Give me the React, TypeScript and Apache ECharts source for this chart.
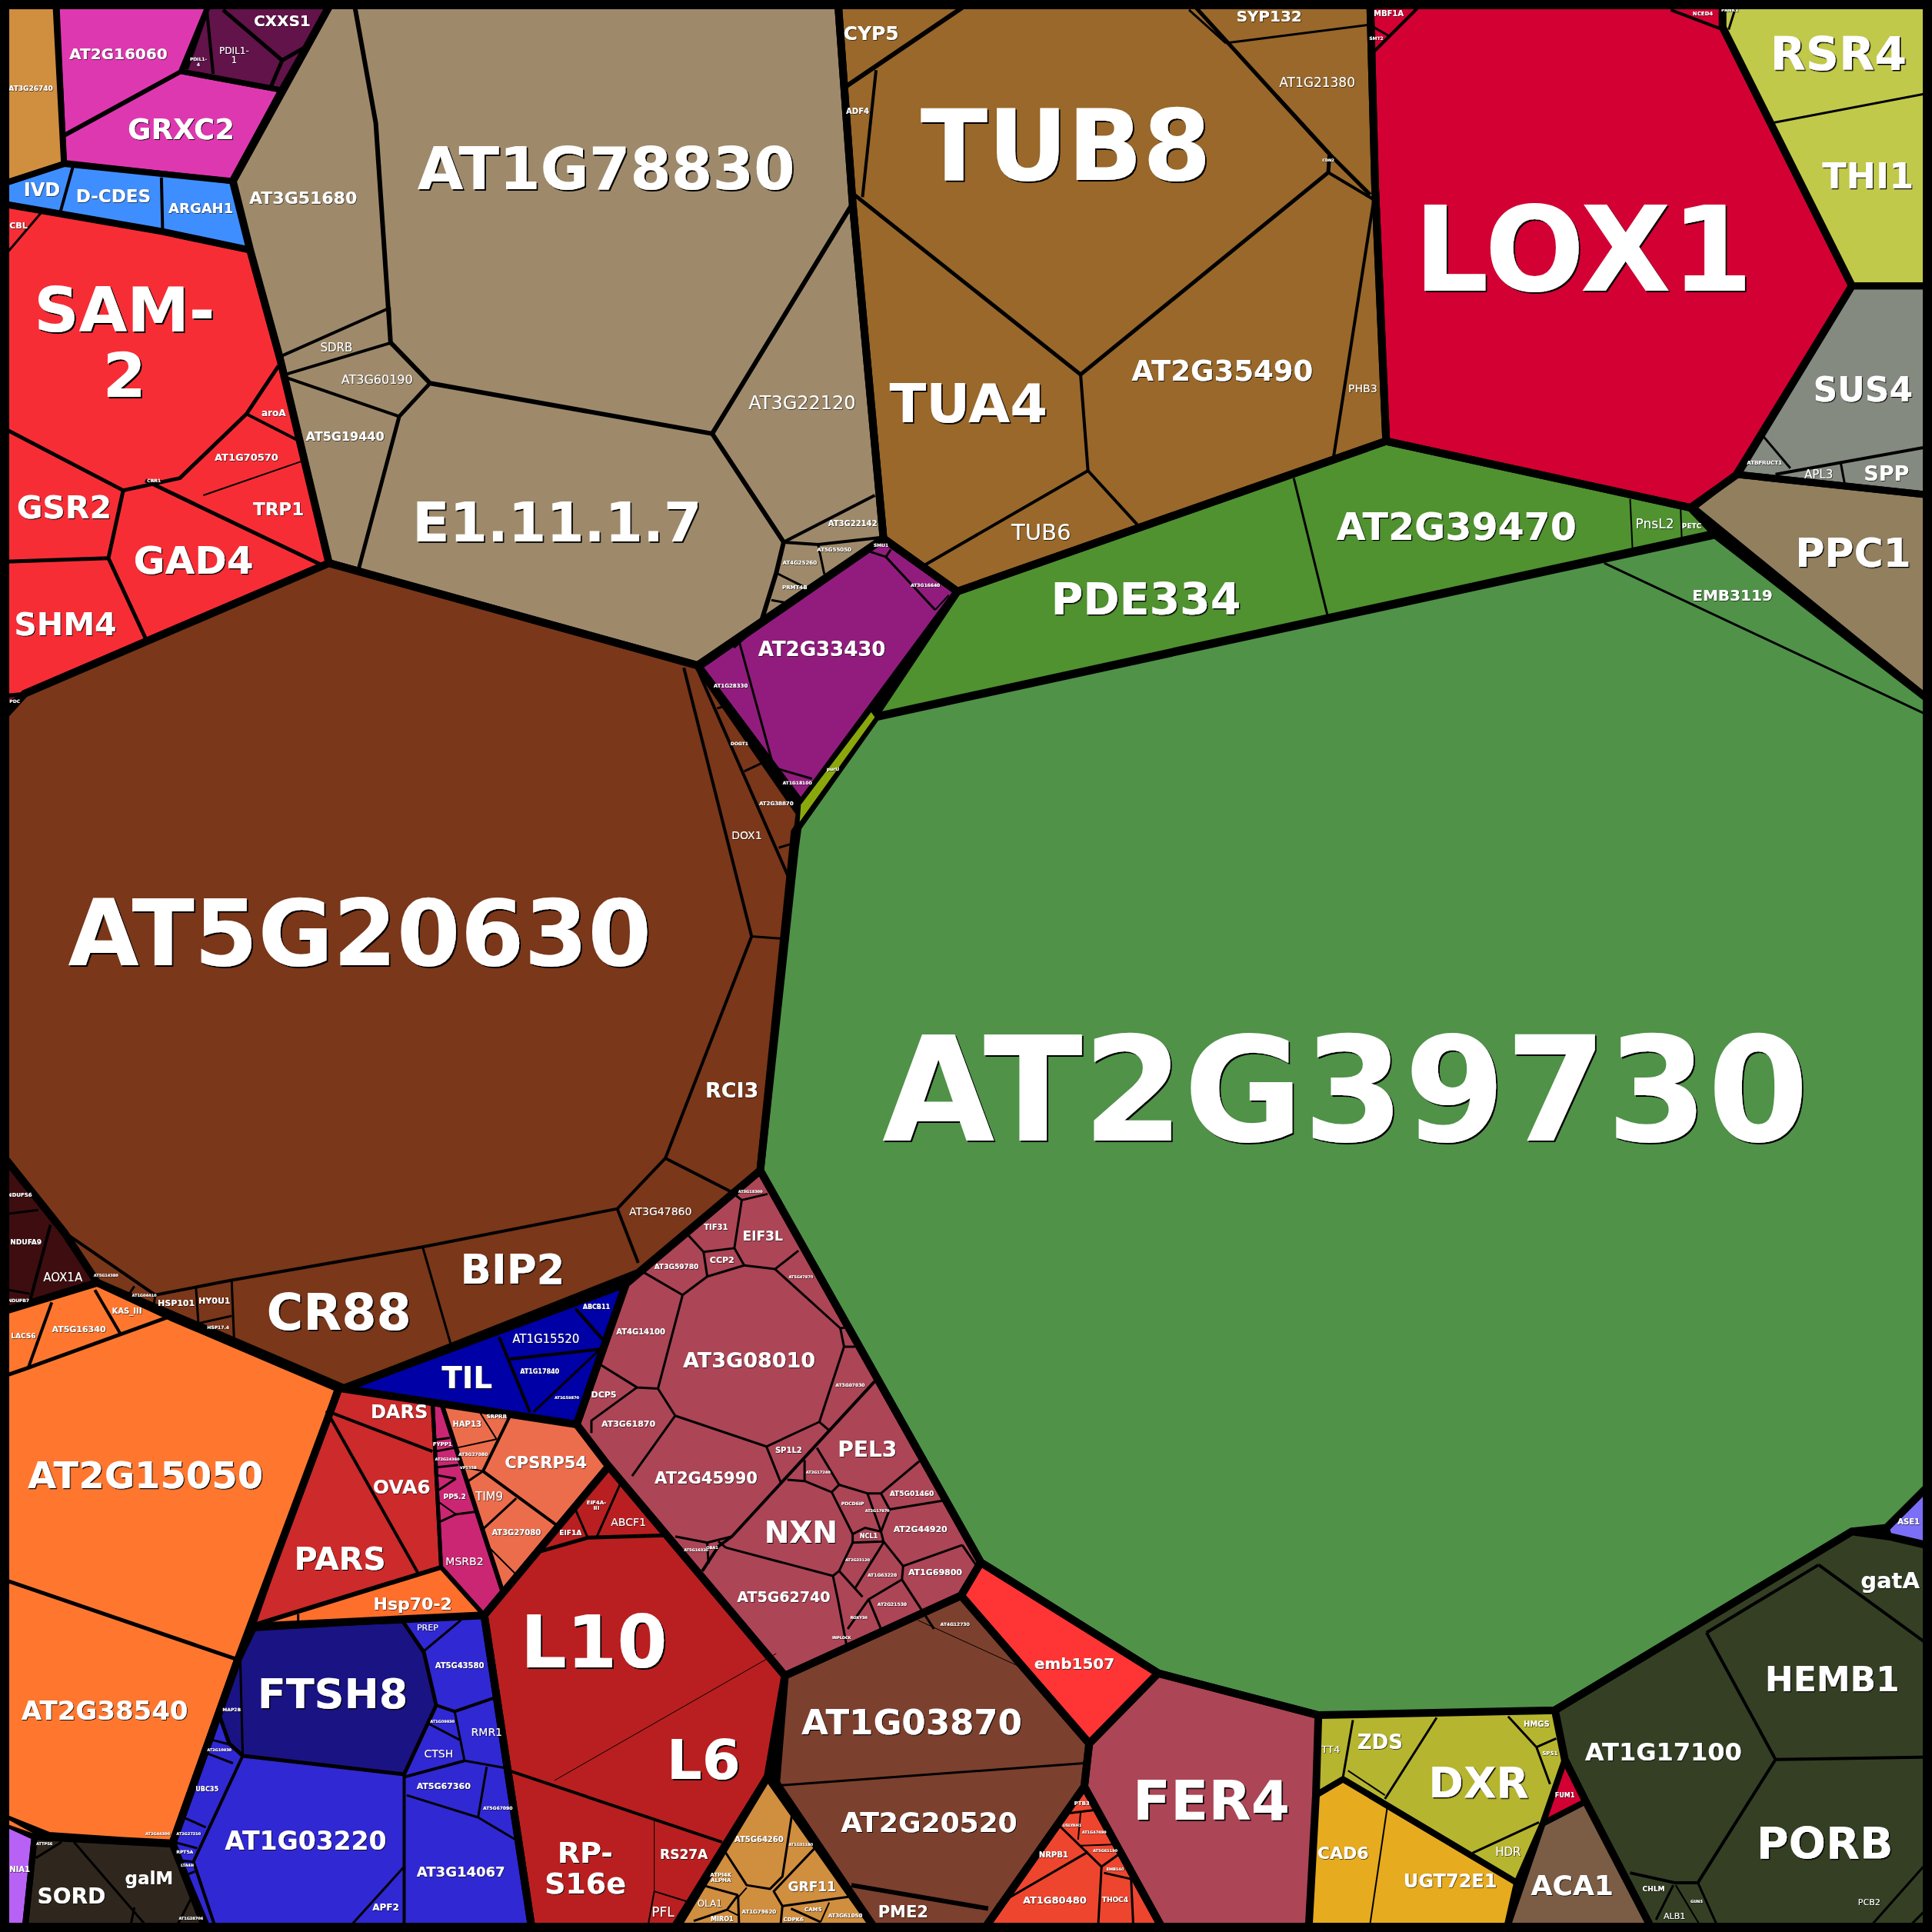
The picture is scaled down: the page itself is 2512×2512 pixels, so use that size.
import React, { useEffect, useRef } from "react";
import * as echarts from "echarts";

const SPACE = 1568;
const FONT = '"DejaVu Sans"';
const GROUP_LINE = 10;

// [colour, outline as flat x,y pairs, outline width]
const cellGroups: [string, number[], number?][] = [
  ["#D08E3F", [0,0, 45,0, 52,133, 0,150], 8],
  ["#DE38B1", [46,0, 171,0, 147,58, 228,73, 188,147, 52,132], 7],
  ["#61134A", [171,0, 270,0, 228,73, 147,58], 7],
  ["#3F8EFF", [0,150, 52,133, 189,147, 203,203, 132,188, 0,165], 8],
  ["#F72D36", [0,165, 132,188, 203,203, 227,290, 267,457, 119,520, 20,563, 0,580], 9],
  ["#5B1020", [0,565, 21,563, 6,580], 5],
  ["#9E8A6A", [270,0, 680,0, 692,165, 717,437, 566,540, 267,457, 227,290, 203,203, 189,147]],
  ["#99682A", [680,0, 1112,0, 1116,150, 1125,358, 777,480, 717,437, 692,165]],
  ["#D30033", [1112,0, 1398,0, 1398,22, 1503,232, 1410,385, 1372,412, 1125,358, 1116,150]],
  ["#C1C94A", [1398,0, 1568,0, 1568,232, 1503,232, 1398,22], 9],
  ["#848A80", [1503,232, 1568,232, 1568,402, 1409,385], 9],
  ["#917F5E", [1374,412, 1409,385, 1568,402, 1568,570], 9],
  ["#4F9248", [711,582, 1392,434, 1568,570, 1568,1203, 1531,1240, 1503,1243, 1262,1388, 1070,1392, 940,1358, 796,1268, 617,950, 645,675]],
  ["#4F922F", [777,480, 1125,358, 1372,412, 1392,433, 709,582]],
  ["#7A3719", [0,585, 20,563, 267,457, 566,540, 649,660, 645,690, 617,950, 518,1033, 280,1127, 79,1041, 52,1000, 0,935]],
  ["#3E0D10", [0,935, 52,1000, 79,1041, 0,1065], 9],
  ["#FF772F", [0,1065, 79,1041, 139,1069, 275,1127, 193,1347, 140,1496, 100,1494, 40,1490, 0,1474]],
  ["#CC2A2B", [273,1127, 351,1137, 358,1272, 206,1319], 5],
  ["#FF6F2C", [206,1319, 358,1272, 393,1311, 206,1322], 6],
  ["#CB2674", [351,1137, 358,1138, 408,1292, 393,1311, 358,1272], 5],
  ["#EC6D4C", [358,1138, 468,1156, 494,1190, 408,1292], 6],
  ["#B91F20", [494,1190, 637,1360, 623,1442, 547,1568, 432,1568, 393,1311]],
  ["#D08E3F", [623,1442, 712,1568, 545,1568]],
  ["#7C402E", [637,1360, 780,1295, 884,1415, 880,1450, 797,1568, 712,1568, 630,1447]],
  ["#FF3535", [780,1295, 796,1268, 940,1358, 884,1415]],
  ["#AC4556", [884,1415, 940,1358, 1070,1392, 1068,1457, 1062,1568, 945,1568, 880,1450]],
  ["#EE452E", [880,1450, 945,1568, 797,1568]],
  ["#B6B52F", [1070,1392, 1262,1388, 1270,1428, 1252,1480, 1231,1528, 1090,1444, 1068,1457], 8],
  ["#E6AB1E", [1068,1457, 1090,1444, 1231,1528, 1222,1568, 1062,1568], 8],
  ["#D30033", [1270,1428, 1287,1462, 1252,1480], 7],
  ["#7B5C45", [1252,1480, 1287,1462, 1342,1568, 1222,1568], 8],
  ["#343F24", [1262,1388, 1503,1243, 1533,1247, 1568,1255, 1568,1568, 1342,1568, 1287,1462, 1270,1428]],
  ["#7B6FF7", [1531,1240, 1568,1203, 1568,1255, 1533,1247], 8],
  ["#3028D3", [193,1347, 206,1320, 393,1311, 432,1568, 168,1568, 140,1496]],
  ["#1A1384", [206,1320, 327,1316, 344,1341, 354,1384, 328,1440, 197,1425, 186,1415, 178,1392, 193,1347], 5],
  ["#2F271D", [28,1491, 140,1497, 170,1568, 20,1568], 8],
  ["#B861F5", [0,1478, 28,1491, 20,1568, 0,1568], 8],
  ["#0000A7", [278,1127, 508,1042, 468,1156]],
  ["#AC4556", [508,1042, 617,950, 796,1268, 780,1295, 637,1360, 494,1190, 468,1156]],
  ["#921C7E", [567,541, 717,437, 777,480, 650,652]],
];

// slim cells painted over the heavy outlines: [colour, flat x,y pairs]
const slimCells: [string, number[]][] = [
  ["#8AA80C", [707,578, 710,582, 649,667, 650,653]],
  ["#FF772F", [7,1477, 27,1488, 7,1481]],
];

// [line width, polyline as flat x,y pairs]
const cellEdges: [number, number[]][] = [
  [6, [52,110, 147,58]],
  [6, [168,8, 151,56]], [4, [168,10, 173,60]],
  [5, [181,8, 229,49]], [5, [229,49, 248,38]], [5, [229,49, 220,70]],
  [4, [59,136, 49,172]], [4, [131,144, 132,188]],
  [3, [0,212, 34,172]],
  [5, [0,346, 100,398, 146,388, 200,336, 226,297]],
  [4, [200,336, 243,358]],
  [5, [118,390, 260,458]],
  [2, [165,402, 246,374]],
  [5, [100,398, 88,453, 119,520]],
  [5, [0,456, 88,453]],
  [6, [287,0, 305,100, 317,278, 349,311, 578,352, 692,165]],
  [4, [226,290, 316,250, 317,278]],
  [4, [228,305, 318,278]],
  [4, [228,305, 324,338]],
  [5, [349,311, 324,338, 291,462]],
  [6, [578,352, 636,440, 630,465, 618,504, 595,525]],
  [4, [636,440, 710,402]],
  [4, [636,440, 664,442, 717,436]],
  [3, [664,442, 669,466]],
  [3, [630,465, 652,476]],
  [3, [626,487, 637,489]],
  [6, [684,72, 790,0]],
  [4, [711,57, 700,160]],
  [5, [692,157, 877,304, 1078,140, 1079,125, 1036,78, 965,0]],
  [4, [877,304, 883,382, 748,460]],
  [4, [883,382, 925,428]],
  [4, [1078,140, 1115,162, 1082,373]],
  [5, [1036,78, 1079,125, 1112,158]],
  [3, [995,35, 1112,20]],
  [3, [965,8, 995,35]],
  [4, [1157,0, 1113,44]], [3, [1113,21, 1127,29]],
  [4, [1356,8, 1398,24]],
  [3, [1408,8, 1403,24]],
  [3, [1437,100, 1568,75]],
  [4, [1441,385, 1568,362]],
  [3, [1431,354, 1453,380]],
  [3, [1494,376, 1497,392]],
  [3, [1050,388, 1078,502]],
  [2, [1323,405, 1325,447]],
  [2, [1364,413, 1365,440]],
  [3, [1302,457, 1568,582]],
  [4, [555,542, 610,760, 540,940, 501,981, 343,1012, 188,1039, 126,1051, 52,1000]],
  [4, [566,543, 640,712]],
  [3, [610,760, 638,762]],
  [3, [604,626, 619,619]], [3, [582,575, 588,573]], [3, [632,688, 642,685]],
  [4, [540,940, 593,967]],
  [4, [501,981, 518,1025]],
  [3, [343,1012, 367,1095]],
  [3, [159,1044, 161,1074]], [3, [188,1039, 190,1088]], [3, [161,1074, 188,1068]],
  [3, [109,1044, 105,1050]], [3, [126,1051, 125,1058]],
  [3, [7,985, 31,982]], [4, [41,994, 24,1057]], [3, [7,1047, 24,1050]],
  [4, [42,1057, 23,1110]], [4, [77,1047, 98,1083]], [5, [0,1118, 23,1110, 139,1068]],
  [5, [0,1281, 193,1347]],
  [4, [265,1145, 351,1178]], [4, [265,1145, 340,1278]],
  [3, [242,1310, 242,1317]],
  [3, [351,1169, 365,1167]], [3, [353,1178, 369,1175]], [3, [353,1191, 372,1189]],
  [3, [355,1210, 370,1200]], [3, [357,1235, 370,1229, 385,1227]], [2, [356,1219, 370,1229]],
  [3, [353,1197, 370,1200]],
  [4, [414,1149, 392,1194, 452,1238]],
  [2, [388,1144, 403,1168]], [2, [371,1175, 403,1168]],
  [2, [377,1191, 392,1194]], [3, [380,1202, 392,1194]],
  [3, [419,1216, 392,1241]], [2, [396,1255, 419,1278]],
  [5, [439,1259, 477,1248, 540,1246]],
  [3, [467,1225, 477,1248]], [3, [504,1203, 484,1248]],
  [1, [450,1445, 630,1342]],
  [4, [413,1437, 586,1495]],
  [1, [531,1477, 531,1535]],
  [2, [531,1535, 557,1543]], [2, [531,1535, 525,1568]],
  [3, [586,1499, 606,1530, 625,1533, 635,1523, 643,1471]],
  [3, [665,1496, 628,1535, 635,1547, 692,1539]],
  [3, [570,1530, 599,1538]], [3, [599,1538, 600,1568]],
  [2, [606,1532, 599,1540]],
  [3, [599,1538, 590,1550, 563,1559]], [2, [590,1550, 600,1555]],
  [3, [635,1547, 633,1568]], [3, [642,1549, 666,1560]], [2, [673,1544, 666,1560]],
  [2, [586,1499, 570,1530]],
  [3, [633,1449, 880,1431]],
  [6, [691,1530, 802,1549]],
  [1, [745,1315, 835,1356]],
  [3, [858,1480, 894,1515]], [3, [809,1546, 883,1503]],
  [3, [894,1515, 891,1568]], [3, [896,1520, 918,1525]], [3, [918,1525, 920,1568]],
  [3, [864,1472, 888,1469]], [2, [877,1471, 875,1493]], [2, [877,1498, 903,1497]], [3, [894,1515, 908,1505]],
  [3, [1098,1396, 1090,1442]], [3, [1166,1394, 1124,1460]], [2, [1094,1437, 1124,1457]],
  [3, [1224,1393, 1247,1418, 1258,1448]], [3, [1247,1418, 1263,1411]],
  [3, [1249,1479, 1195,1504]],
  [2, [1126,1466, 1111,1568]],
  [4, [1385,1325, 1441,1428, 1568,1426]],
  [4, [1385,1325, 1476,1270]], [4, [1476,1270, 1568,1337]],
  [4, [1441,1428, 1378,1528, 1359,1528, 1323,1520]],
  [3, [1358,1530, 1344,1558]], [2, [1360,1530, 1383,1568]], [3, [1378,1528, 1396,1568]],
  [3, [1561,1515, 1514,1568]], [3, [1561,1552, 1545,1568]],
  [3, [197,1425, 195,1348]],
  [3, [327,1317, 344,1340, 374,1315]],
  [4, [354,1384, 369,1389, 401,1378]],
  [3, [369,1389, 377,1429, 411,1435]],
  [4, [377,1429, 329,1442]],
  [3, [348,1399, 373,1412]],
  [4, [328,1440, 328,1568]],
  [3, [330,1457, 388,1475, 420,1494]],
  [3, [395,1434, 388,1475]],
  [3, [328,1515, 280,1568]],
  [4, [197,1425, 157,1511, 176,1568]],
  [3, [172,1412, 187,1416]], [3, [168,1423, 189,1431]], [3, [149,1475, 167,1483]],
  [3, [141,1495, 160,1500]], [3, [146,1510, 157,1511]], [3, [153,1521, 158,1519]],
  [3, [50,1495, 29,1508]], [3, [60,1495, 123,1568]], [3, [109,1548, 105,1568]], [3, [156,1539, 141,1568]],
  [4, [405,1085, 430,1146]], [4, [467,1062, 489,1087]], [4, [414,1103, 487,1095]], [3, [487,1095, 433,1146]],
  [3, [597,970, 602,974, 623,969]], [3, [602,974, 596,1013, 571,1016, 559,1003]],
  [3, [571,1016, 574,1036, 604,1027, 596,1013]],
  [3, [604,1027, 629,1030, 648,1015]],
  [3, [574,1036, 554,1051, 523,1033]],
  [3, [629,1030, 682,1078, 685,1093, 665,1154, 622,1174, 548,1149, 534,1127, 554,1051]],
  [3, [682,1078, 688,1077]], [3, [685,1093, 694,1093]],
  [3, [534,1127, 517,1126, 488,1108]],
  [3, [517,1126, 480,1153, 480,1163]],
  [3, [548,1149, 513,1198]],
  [3, [622,1174, 634,1204]],
  [3, [548,1247, 574,1252, 594,1247]],
  [3, [665,1154, 673,1161]],
  [4, [710,1121, 594,1247, 583,1255, 570,1275]],
  [3, [574,1252, 575,1269]], [3, [583,1251, 589,1256]],
  [3, [663,1175, 681,1205, 675,1211, 653,1202, 639,1201]],
  [3, [653,1185, 653,1202]],
  [3, [681,1205, 704,1212, 715,1212, 746,1186]],
  [3, [675,1211, 692,1245, 702,1240, 715,1243, 704,1212]],
  [3, [715,1212, 722,1225, 715,1243]],
  [3, [722,1225, 765,1218]],
  [3, [717,1251, 733,1271, 781,1254]],
  [3, [781,1254, 792,1270]],
  [3, [692,1252, 717,1251, 715,1243]],
  [3, [692,1245, 692,1252, 681,1275, 676,1279, 589,1256]],
  [3, [717,1252, 694,1289]],
  [3, [681,1275, 700,1296]],
  [3, [733,1271, 732,1282, 705,1298, 688,1322]],
  [3, [732,1282, 758,1322]],
  [3, [705,1298, 715,1322]],
  [3, [676,1279, 680,1298, 687,1335]],
  [3, [600,521, 628,623, 659,632]],
  [3, [628,623, 636,640]],
  [3, [704,447, 719,452, 759,495]],
  [3, [723,446, 719,452]],
  [2, [759,495, 770,483]],
];

// [text, x, y, font size, "r" for regular weight]
const geneLabels: [string, number, number, number, string?][] = [
  ["AT2G39730",1092,885,189],["AT5G20630",292,758,119],["LOX1",1285,203,153],["TUB8",865,118,128],
  ["AT1G78830",492,137,77],["TUA4",786,328,70],["E1.11.1.7",452,424,71],["SAM-\n2",101,278,81],
  ["AT2G35490",992,301,37],["AT3G22120",651,327,24,"r"],["AT3G51680",246,161,22],["RSR4",1492,44,60],
  ["THI1",1516,143,46],["SUS4",1512,316,44],["PPC1",1504,449,52],["SPP",1531,384,27],["APL3",1476,385,15,"r"],
  ["ATBFRUCT1",1432,376,7],["PHB3",1106,315,14,"r"],["TUB6",845,432,29,"r"],["CYP5",707,27,25],["ADF4",696,90,10],
  ["SYP132",1030,13,20],["AT1G21380",1069,67,17,"r"],["PDE334",930,486,57],["AT2G39470",1182,428,49],
  ["PnsL2",1343,425,17,"r"],["PETC",1373,427,9],["EMB3119",1406,483,20],["MBF1A",1127,11,10],["NCED4",1382,11,7],
  ["SMT2",1117,31,6],["PANK2",1404,8,6],["CDN2",1078,130,5],
  ["AT2G16060",96,44,20],["GRXC2",147,105,37],["CXXS1",229,17,20],["PDIL1-\n1",190,45,12,"r"],["PDIL1-\n4",161,50,6],
  ["AT3G26740",25,72,9],["IVD",34,154,24],["D-CDES",92,159,23],["ARGAH1",163,169,18],["CBL",15,183,11],
  ["GSR2",52,412,41],["GAD4",157,455,50],["SHM4",53,507,41],["TRP1",226,413,23],["aroA",222,335,12],
  ["AT1G70570",200,371,13],["CRR1",125,390,6],["PDC",12,569,6],["SDRB",273,282,15,"r"],["AT3G60190",306,308,16,"r"],
  ["AT5G19440",280,354,16],["AT3G22142",692,425,10],["AT4G25260",649,457,7],["AT5G55050",677,446,7],["PRMT4B",645,477,7],
  ["AT2G33430",667,527,26],["AT1G28330",593,557,7],["AT3G16640",751,475,6],["SMU1",715,442,6],["AT1G18100",647,635,6],
  ["purU",676,624,6],["DOGT1",600,603,6],["AT2G38870",630,652,7],["DOX1",606,678,14,"r"],["RCI3",594,885,27],
  ["AT3G47860",536,983,14,"r"],["BIP2",416,1030,53],["CR88",275,1065,65],["HSP101",143,1058,11],["HY0U1",174,1056,11],
  ["HSP17.4",177,1077,6],["AOX1A",51,1037,15,"r"],["NDUFA9",21,1008,9],["NDUFS6",16,970,7],["NDUFB7",15,1055,6],
  ["AT5G14380",86,1035,5],["AT1G04410",117,1051,5],
  ["LACS6",19,1084,9],["AT5G16340",64,1079,11],["KAS_III",103,1064,10],["AT2G15050",118,1197,48],["AT2G38540",85,1388,34],
  ["DARS",324,1146,24],["OVA6",326,1207,25],["PARS",276,1265,41],["Hsp70-2",335,1302,22],["MSRB2",377,1267,14,"r"],
  ["PP5.2",369,1215,9],["TIM9",397,1215,15,"r"],["CPSRP54",443,1187,21],["HAP13",379,1156,10],["SRPRB",403,1150,7],
  ["AT3G27080",419,1244,10],["AT3G27080",384,1180,6],["AT2G24360",363,1184,5],["FYPP1",359,1172,7],["VPS35B",380,1191,5],
  ["EIF1A",463,1244,9],["EIF4A-\nIII",484,1222,7],["ABCF1",510,1235,14,"r"],["TIL",379,1118,39],["AT1G15520",443,1087,15,"r"],
  ["AT1G17840",438,1113,8],["ABCB11",484,1061,8],["AT1G59870",460,1134,5],["AT4G14100",520,1081,10],["DCP5",490,1132,11],
  ["AT3G61870",510,1156,11],["AT3G08010",608,1104,27],["AT2G45990",573,1200,21],["AT3G59780",549,1028,9],["TIF31",581,996,10],
  ["CCP2",586,1023,11],["EIF3L",619,1003,17],["AT5G47870",650,1036,5],["SP1L2",640,1177,10],["PEL3",704,1176,28],
  ["AT3G07030",690,1124,6],["AT5G01460",740,1212,9],["AT2G44920",747,1241,11],["AT1G69800",759,1276,11],["NXN",650,1244,39],
  ["NCL1",705,1247,8],["PDCD6IP",692,1220,6],["AT2G17870",712,1226,5],["AT5G62740",636,1296,19],["AT2G21530",724,1302,6],
  ["AT1G63220",716,1278,6],["AT2G23120",696,1266,5],["ROXY30",697,1313,5],["INPLOCK",683,1329,5],["AT2G17240",664,1195,5],
  ["AT5G16320",565,1258,5],["OBA1",578,1256,5],["AT3G18300",609,967,5],
  ["L10",482,1333,94],["L6",571,1428,72],["RP-\nS16e",475,1516,38],["RS27A",555,1505,17],["PFL",538,1552,17,"r"],
  ["AT5G64260",616,1493,10],["GRF11",659,1531,17],["ATPI4K\nALPHA",585,1524,7],["OLA1",576,1545,12,"r"],["MIRO1",586,1558,8],
  ["AT1G79620",616,1552,7],["CDPK6",644,1558,7],["CAMS",660,1550,7],["AT3G61050",686,1555,7],["AT1G31180",650,1497,5],
  ["AT1G03870",740,1398,45],["AT2G20520",754,1479,36],["PME2",733,1552,21],["AT4G12730",775,1318,6],["emb1507",872,1350,20],
  ["FER4",983,1461,72],["NRPB1",855,1505,10],["AT1G80480",856,1542,13],["THOC4",905,1542,9],["PTB3",878,1464,7],
  ["USLYAH1",870,1481,5],["AT1G47490",888,1487,5],["AT5G61190",897,1502,5],["EMB140",905,1517,5],
  ["TT4",1080,1420,13,"r"],["ZDS",1120,1414,26],["DXR",1200,1447,55],["HMGS",1247,1399,10],["SPS1",1258,1423,7],["HDR",1224,1503,15,"r"],
  ["FUM1",1270,1457,8],["CAD6",1090,1504,22],["UGT72E1",1177,1527,24],["ACA1",1276,1530,36],["AT1G17100",1350,1422,32],
  ["HEMB1",1487,1363,44],["gatA",1534,1283,29],["PORB",1481,1496,57],["PCB2",1517,1544,11,"r"],["CHLM",1342,1533,9],
  ["ALB1",1359,1555,11,"r"],["GUN5",1377,1543,5],["ASE1",1549,1235,10],["FTSH8",270,1375,54],["AT5G43580",373,1352,10],
  ["PREP",347,1321,11,"r"],["RMR1",395,1406,14,"r"],["CTSH",356,1423,14,"r"],["AT1G09930",359,1397,5],["AT5G67360",360,1450,11],
  ["AT5G67090",404,1467,6],["AT3G14067",374,1519,18],["AT1G03220",248,1494,33],["APF2",313,1548,12],["MAP2B",188,1387,6],
  ["UBC35",168,1452,8],["AT2G27210",153,1488,5],["RPT5A",150,1503,6],["LTA4H",152,1514,5],["AT2G10930",178,1420,5],["SORD",58,1539,28],
  ["galM",121,1524,23],["NIA1",16,1517,10],["ATTPS6",36,1496,5],["AT1G28706",155,1557,5],["AT2G44300",128,1488,5],
];

const toPoints = (api: any, flat: number[]) => {
  const pts: number[][] = [];
  for (let i = 0; i < flat.length; i += 2) pts.push(api.coord([flat[i], flat[i + 1]]));
  return pts;
};
const rows = (n: number) => Array.from({ length: n }, (_, i) => [i, i]);
const base = { type: "custom", coordinateSystem: "cartesian2d", clip: false, silent: true, animation: false };

export default function App() {
  const ref = useRef<HTMLDivElement>(null);
  useEffect(() => {
    const chart = echarts.init(ref.current!, null, { renderer: "svg" });
    const axis = { type: "value", min: 0, max: SPACE, show: false };
    chart.setOption({
      animation: false,
      backgroundColor: "#000",
      grid: { left: 0, right: 0, top: 0, bottom: 0 },
      xAxis: axis,
      yAxis: { ...axis, inverse: true },
      series: [
        {
          ...base,
          z: 1,
          data: rows(cellGroups.length),
          renderItem: (p: any, api: any) => {
            const [color, flat] = cellGroups[p.dataIndex];
            return { type: "polygon", shape: { points: toPoints(api, flat) }, style: { fill: color } };
          },
        },
        {
          ...base,
          z: 2,
          data: rows(cellGroups.length),
          renderItem: (p: any, api: any) => {
            const [, flat, w] = cellGroups[p.dataIndex];
            return {
              type: "polygon",
              shape: { points: toPoints(api, flat) },
              style: { fill: "none", stroke: "#000", lineWidth: w ?? GROUP_LINE, lineJoin: "round" },
            };
          },
        },
        {
          ...base,
          z: 3,
          data: rows(cellEdges.length),
          renderItem: (p: any, api: any) => {
            const [w, flat] = cellEdges[p.dataIndex];
            return {
              type: "polyline",
              shape: { points: toPoints(api, flat) },
              style: { fill: "none", stroke: "#000", lineWidth: w, lineJoin: "round" },
            };
          },
        },
        {
          ...base,
          z: 4,
          data: rows(slimCells.length),
          renderItem: (p: any, api: any) => {
            const [color, flat] = slimCells[p.dataIndex];
            return { type: "polygon", shape: { points: toPoints(api, flat) }, style: { fill: color } };
          },
        },
        {
          ...base,
          z: 5,
          data: rows(geneLabels.length),
          renderItem: (p: any, api: any) => {
            const [text, x, y, size, weight] = geneLabels[p.dataIndex];
            const [px, py] = api.coord([x, y]);
            const off = Math.min(2, Math.max(0.6, size / 40));
            return {
              type: "text",
              x: px,
              y: py,
              style: {
                text,
                fill: "#fff",
                font: `${weight === "r" ? "normal" : "bold"} ${size}px ${FONT}`,
                align: "center",
                verticalAlign: "middle",
                lineHeight: size * 1.05,
                textShadowColor: "#000",
                textShadowBlur: 0.01,
                textShadowOffsetX: off,
                textShadowOffsetY: off,
              },
            };
          },
        },
        {
          ...base,
          z: 6,
          data: rows(1),
          renderItem: (_p: any, api: any) => ({
            type: "polygon",
            shape: { points: toPoints(api, [0, 0, SPACE, 0, SPACE, SPACE, 0, SPACE]) },
            style: { fill: "none", stroke: "#000", lineWidth: 24 },
          }),
        },
      ],
    });
    return () => chart.dispose();
  }, []);
  return <div ref={ref} style={{ position: "absolute", left: 0, top: 0, width: 2512, height: 2512 }} />;
}
